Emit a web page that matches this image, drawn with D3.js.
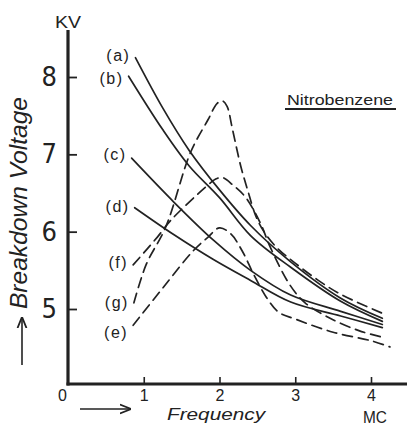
<!DOCTYPE html>
<html><head><meta charset="utf-8">
<script src="https://cdn.jsdelivr.net/npm/d3@7"></script>
<style>
html,body{margin:0;padding:0;background:#fff;}
svg{display:block;}
text{fill:#222;}
</style></head>
<body>
<svg id="c" width="407" height="426"></svg>
<script>
// ---- data ----
const xTicks = [0, 1, 2, 3, 4];
const yTicks = [5, 6, 7, 8];
const seriesNames = ["(a)", "(b)", "(c)", "(d)", "(e)", "(f)", "(g)"];
const seriesDashed = [false, false, false, false, true, true, true];

const freqA = [0.89, 1.25, 1.6, 2.0, 2.41, 2.94, 3.6, 4.15];
const voltA = [8.25, 7.6, 7.05, 6.54, 6.08, 5.61, 5.14, 4.88];
const freqB = [0.80, 1.25, 1.6, 2.0, 2.41, 2.94, 3.6, 4.15];
const voltB = [8.01, 7.32, 6.85, 6.44, 5.95, 5.54, 5.10, 4.84];
const freqC = [0.84, 1.4, 1.92, 2.41, 2.94, 3.6, 4.15];
const voltC = [6.95, 6.38, 5.89, 5.5, 5.18, 4.97, 4.80];
const freqD = [0.88, 1.4, 1.92, 2.41, 2.94, 3.6, 4.15];
const voltD = [6.31, 5.96, 5.64, 5.37, 5.09, 4.91, 4.76];
const freqE = [0.86, 1.25, 1.66, 1.85, 2.0, 2.15, 2.3, 2.45, 2.62, 2.78, 3.0, 3.5, 4.0, 4.25];
const voltE = [4.79, 5.27, 5.76, 5.93, 6.05, 5.97, 5.75, 5.45, 5.15, 4.96, 4.87, 4.70, 4.59, 4.51];
const freqF = [0.86, 1.18, 1.36, 1.82, 1.95, 2.04, 2.18, 2.34, 2.54, 2.67, 2.93, 3.13, 3.46, 3.84, 4.13];
const voltF = [5.57, 5.93, 6.15, 6.58, 6.68, 6.70, 6.60, 6.45, 6.11, 5.80, 5.31, 5.08, 4.88, 4.72, 4.64];
const freqG = [0.87, 1.03, 1.29, 1.62, 1.85, 1.97, 2.04, 2.1, 2.17, 2.28, 2.38, 2.48, 2.6, 2.77, 2.99, 3.29, 3.6, 4.21];
const voltG = [5.08, 5.57, 6.06, 7.03, 7.45, 7.66, 7.69, 7.62, 7.33, 6.85, 6.51, 6.20, 5.98, 5.78, 5.60, 5.38, 5.19, 4.92];

const freqs = [freqA, freqB, freqC, freqD, freqE, freqF, freqG];
const volts = [voltA, voltB, voltC, voltD, voltE, voltF, voltG];

// ---- layout ----
const svg = d3.select("#c");
const ink = "#222";
const x = d3.scaleLinear().domain([0, 4]).range([68, 371]);
const y = d3.scaleLinear().domain([5, 8]).range([309, 77]);
const yBase = y.invert(384);   // value where the frequency axis sits
const yTop = y.invert(30);

// axes
const gy = svg.append("g").attr("transform", `translate(${x(0)},0)`)
  .call(d3.axisLeft(y).tickValues(yTicks).tickFormat(d3.format("d"))
        .tickSizeInner(-9).tickSizeOuter(0).tickPadding(11));
gy.select(".domain").remove();
gy.selectAll(".tick line").attr("stroke", ink).attr("stroke-width", 1.8);
gy.selectAll(".tick text").attr("font-family", "'Liberation Sans Narrow','DejaVu Sans Condensed','Liberation Sans',sans-serif")
  .attr("font-size", 27).attr("fill", ink);

const gx = svg.append("g").attr("transform", `translate(0,${y(yBase)})`)
  .call(d3.axisBottom(x).tickValues(xTicks).tickFormat(d3.format("d"))
        .tickSizeInner(-7).tickSizeOuter(0).tickPadding(6));
gx.select(".domain").remove();
gx.selectAll(".tick line").attr("stroke", ink).attr("stroke-width", 1.6);
gx.selectAll(".tick text").attr("font-family", "'Liberation Sans Narrow','Liberation Sans',sans-serif")
  .attr("font-size", 16).attr("fill", ink)
  .attr("dx", d => d === 0 ? -6 : 0);
gx.selectAll(".tick").filter(d => d === 0).select("line").remove();

// thick hand-drawn axis lines
svg.append("line").attr("x1", x(0)).attr("x2", x(0)).attr("y1", y(yTop)).attr("y2", y(yBase) + 1.5)
  .attr("stroke", ink).attr("stroke-width", 3.2);
svg.append("line").attr("x1", x(0) - 1.5).attr("x2", 407).attr("y1", y(yBase)).attr("y2", y(yBase))
  .attr("stroke", ink).attr("stroke-width", 3.2);

// curves
const line = d3.line().x(d => x(d[0])).y(d => y(d[1])).curve(d3.curveCatmullRom.alpha(0.5));
const labelDy = [-2, 2, -4, -1, 7, -3, 0];
seriesNames.forEach((name, i) => {
  const pts = freqs[i].map((f, j) => [f, volts[i][j]]);
  svg.append("path").datum(pts).attr("d", line)
    .attr("fill", "none").attr("stroke", ink).attr("stroke-width", 1.7)
    .attr("stroke-linecap", "round")
    .attr("stroke-dasharray", seriesDashed[i] ? "10,6" : null);
  svg.append("text").attr("x", x(pts[0][0]) - 5).attr("y", y(pts[0][1]) + labelDy[i])
    .attr("dy", "0.35em").attr("text-anchor", "end")
    .attr("font-family", "'Liberation Sans','DejaVu Sans',sans-serif")
    .attr("font-size", 16).attr("letter-spacing", 1.5).attr("fill", ink)
    .text(name);
});

// axis titles
svg.append("text").attr("x", x(0)).attr("y", 28).attr("text-anchor", "middle")
  .attr("font-family", "'Liberation Sans',sans-serif").attr("font-size", 16)
  .attr("textLength", 26).attr("lengthAdjust", "spacingAndGlyphs").attr("fill", ink).text("KV");

svg.append("text").attr("transform", `translate(27,203) rotate(-90)`).attr("text-anchor", "middle")
  .attr("font-family", "'Liberation Sans',sans-serif").attr("font-style", "italic")
  .attr("font-size", 23).attr("textLength", 212).attr("lengthAdjust", "spacingAndGlyphs")
  .attr("fill", ink).text("Breakdown Voltage");

svg.append("text").attr("x", 216).attr("y", 420).attr("text-anchor", "middle")
  .attr("font-family", "'Liberation Sans',sans-serif").attr("font-style", "italic")
  .attr("font-size", 16).attr("textLength", 98).attr("lengthAdjust", "spacingAndGlyphs")
  .attr("fill", ink).text("Frequency");

svg.append("text").attr("x", x(4) + 4).attr("y", 423).attr("text-anchor", "middle")
  .attr("font-family", "'Liberation Sans',sans-serif").attr("font-size", 16)
  .attr("textLength", 24).attr("lengthAdjust", "spacingAndGlyphs").attr("fill", ink).text("MC");

// arrows
const defs = svg.append("defs");
defs.append("marker").attr("id", "ah").attr("viewBox", "0 0 10 10").attr("refX", 9).attr("refY", 5)
  .attr("markerWidth", 7).attr("markerHeight", 7).attr("orient", "auto")
  .append("path").attr("d", "M0,1 L10,5 L0,9").attr("fill", "none").attr("stroke", ink).attr("stroke-width", 1.6);
svg.append("line").attr("x1", 80).attr("x2", 130).attr("y1", 409).attr("y2", 409)
  .attr("stroke", ink).attr("stroke-width", 1.6).attr("marker-end", "url(#ah)");
svg.append("line").attr("x1", 22).attr("x2", 22).attr("y1", 365).attr("y2", 318)
  .attr("stroke", ink).attr("stroke-width", 1.6).attr("marker-end", "url(#ah)");

// title
svg.append("text").attr("x", 287).attr("y", 105)
  .attr("font-family", "'Liberation Sans',sans-serif").attr("font-size", 15)
  .attr("textLength", 106).attr("lengthAdjust", "spacingAndGlyphs")
  .attr("fill", ink).text("Nitrobenzene");
svg.append("line").attr("x1", 285).attr("x2", 396).attr("y1", 109).attr("y2", 109)
  .attr("stroke", ink).attr("stroke-width", 2);
</script>
</body></html>
